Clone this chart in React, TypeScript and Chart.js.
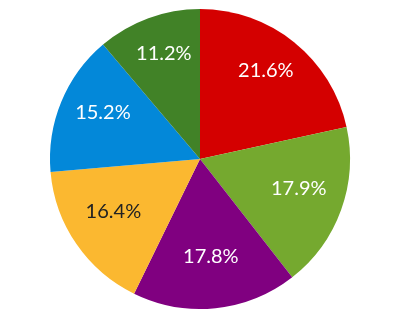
import React, { useEffect, useRef } from "react";
import { Chart, registerables } from "chart.js";

Chart.register(...registerables);

const labels = ["A", "B", "C", "D", "E", "F"];
const values = [21.6, 17.9, 17.8, 16.4, 15.2, 11.2];
const colors = ["#D40000", "#75A92F", "#800080", "#FBB830", "#0388D9", "#418227"];
const textColors = ["#ffffff", "#ffffff", "#ffffff", "#222222", "#ffffff", "#ffffff"];

const labelPlugin = {
  id: "sliceLabels",
  afterDatasetsDraw(chart: any) {
    const ctx = chart.ctx;
    const meta = chart.getDatasetMeta(0);
    ctx.save();
    ctx.font = '20px Lato, "DejaVu Sans", sans-serif';
    ctx.textAlign = "center";
    ctx.textBaseline = "middle";
    meta.data.forEach((arc: any, i: number) => {
      const { x, y, startAngle, endAngle, outerRadius } = arc.getProps(
        ["x", "y", "startAngle", "endAngle", "outerRadius"],
        true
      );
      const mid = (startAngle + endAngle) / 2;
      const r = outerRadius * 0.7;
      ctx.fillStyle = textColors[i];
      ctx.fillText(
        values[i].toFixed(1) + "%",
        x + Math.cos(mid) * r,
        y + Math.sin(mid) * r - 6.5
      );
    });
    ctx.restore();
  },
};

export default function App() {
  const ref = useRef<HTMLCanvasElement | null>(null);
  useEffect(() => {
    if (!ref.current) return;
    const chart = new Chart(ref.current, {
      type: "pie",
      data: {
        labels,
        datasets: [
          {
            data: values,
            backgroundColor: colors,
            borderWidth: 0,
          },
        ],
      },
      options: {
        animation: false,
        responsive: false,
        layout: { padding: { top: 9, bottom: 11, left: 0, right: 0 } },
        plugins: { legend: { display: false }, tooltip: { enabled: false } },
      },
      plugins: [labelPlugin],
    });
    return () => chart.destroy();
  }, []);
  return (
    <div style={{ position: "absolute", left: 0, top: 0, width: 400, height: 320, background: "#fff" }}>
      <canvas ref={ref} width={400} height={320} />
    </div>
  );
}
